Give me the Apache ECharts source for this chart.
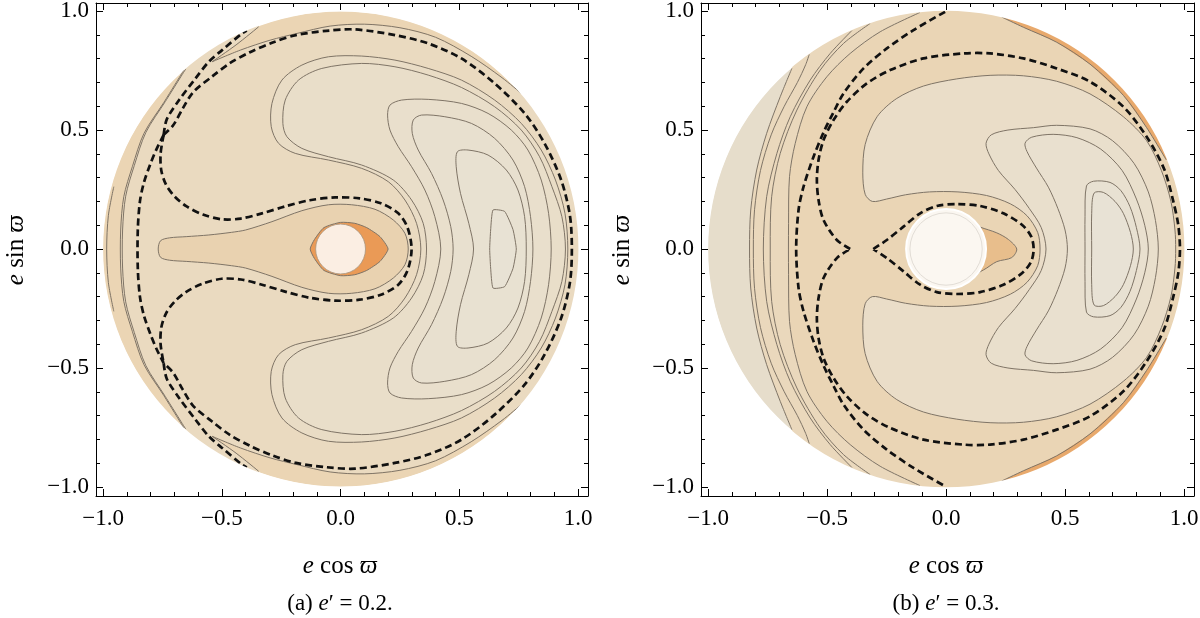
<!DOCTYPE html>
<html>
<head>
<meta charset="utf-8">
<script src="https://cdn.jsdelivr.net/npm/echarts@6/dist/echarts.min.js"></script>
<style>
html,body{margin:0;padding:0;background:#ffffff;}
#chart{width:1200px;height:618px;}
</style>
</head>
<body>
<div id="chart"></div>
<script>
// ---------------- ticks & texts ----------------
const majorTicks = [-1, -0.5, 0, 0.5, 1];
const minorTicks = [-0.9, -0.8, -0.7, -0.6, -0.4, -0.3, -0.2, -0.1, 0.1, 0.2, 0.3, 0.4, 0.6, 0.7, 0.8, 0.9];
const xTitleParts = ['e', 'cos', 'ϖ'];
const yTitleParts = ['e', 'sin', 'ϖ'];
const panelLabels = ['(a)', '(b)'];
const ePrimeValues = ['0.2', '0.3'];

// ---------------- panel (a): e' = 0.2 ----------------
const aDisk = [0, 0, 1];
const aHole = [0, 0, 0.105];
const aInterior = [[1.02,1.02],[0.76,0.66],[0.68,0.72],[0.55,0.81],[0.40,0.89],[0.25,0.93],[0.10,0.945],[-0.044,0.937],[-0.184,0.906],[-0.296,0.878],[-0.422,0.836],[-0.541,0.787],[-0.44,0.858],[-0.345,0.934],[-0.36,1.02],[-1.02,1.02],[-0.66,0.752],[-0.745,0.615],[-0.828,0.486],[-0.877,0.346],[-0.913,0.22],[-0.926,0.08],[-0.926,-0.08],[-0.913,-0.22],[-0.877,-0.346],[-0.828,-0.486],[-0.745,-0.615],[-0.66,-0.752],[-1.02,-1.02],[-0.36,-1.02],[-0.345,-0.934],[-0.44,-0.858],[-0.541,-0.787],[-0.422,-0.836],[-0.296,-0.878],[-0.184,-0.906],[-0.044,-0.937],[0.10,-0.945],[0.25,-0.93],[0.40,-0.89],[0.55,-0.81],[0.68,-0.72],[0.76,-0.66],[1.02,-1.02]];
const aC1a = [[0.338,0],[0.320,0.108],[0.271,0.206],[0.201,0.283],[0.089,0.339],[-0.051,0.374],[-0.191,0.402],[-0.261,0.444],[-0.292,0.514],[-0.289,0.612],[-0.247,0.710],[-0.163,0.773],[-0.051,0.808],[0.089,0.811],[0.229,0.794],[0.369,0.759],[0.509,0.710],[0.649,0.626],[0.761,0.528],[0.845,0.416],[0.905,0.29],[0.945,0.15],[0.957,0],[0.945,-0.15],[0.905,-0.29],[0.845,-0.416],[0.761,-0.528],[0.649,-0.626],[0.509,-0.710],[0.369,-0.759],[0.229,-0.794],[0.089,-0.811],[-0.051,-0.808],[-0.163,-0.773],[-0.247,-0.710],[-0.289,-0.612],[-0.292,-0.514],[-0.261,-0.444],[-0.191,-0.402],[-0.051,-0.374],[0.089,-0.339],[0.201,-0.283],[0.271,-0.206],[0.320,-0.108]];
const aC1b = [[0.362,0],[0.348,0.108],[0.299,0.206],[0.222,0.290],[0.089,0.353],[-0.051,0.388],[-0.163,0.423],[-0.226,0.472],[-0.243,0.528],[-0.233,0.626],[-0.177,0.710],[-0.079,0.759],[0.089,0.78],[0.229,0.766],[0.369,0.731],[0.509,0.679],[0.649,0.598],[0.761,0.50],[0.838,0.388],[0.89,0.262],[0.932,0.136],[0.947,0],[0.932,-0.136],[0.89,-0.262],[0.838,-0.388],[0.761,-0.50],[0.649,-0.598],[0.509,-0.679],[0.369,-0.731],[0.229,-0.766],[0.089,-0.78],[-0.079,-0.759],[-0.177,-0.710],[-0.233,-0.626],[-0.243,-0.528],[-0.226,-0.472],[-0.163,-0.423],[-0.051,-0.388],[0.089,-0.353],[0.222,-0.290],[0.299,-0.206],[0.348,-0.108]];
const aC2 = [[0.887,0],[0.876,0.150],[0.845,0.290],[0.789,0.416],[0.719,0.500],[0.621,0.570],[0.509,0.612],[0.369,0.629],[0.257,0.626],[0.208,0.605],[0.198,0.563],[0.208,0.500],[0.243,0.430],[0.299,0.346],[0.355,0.248],[0.397,0.136],[0.422,0],[0.397,-0.136],[0.355,-0.248],[0.299,-0.346],[0.243,-0.430],[0.208,-0.500],[0.198,-0.563],[0.208,-0.605],[0.257,-0.626],[0.369,-0.629],[0.509,-0.612],[0.621,-0.570],[0.719,-0.500],[0.789,-0.416],[0.845,-0.290],[0.876,-0.150]];
const aC3 = [[0.810,0],[0.800,0.136],[0.775,0.262],[0.726,0.374],[0.649,0.465],[0.551,0.528],[0.439,0.556],[0.341,0.563],[0.306,0.542],[0.302,0.486],[0.327,0.416],[0.383,0.318],[0.432,0.206],[0.464,0.094],[0.474,0],[0.464,-0.094],[0.432,-0.206],[0.383,-0.318],[0.327,-0.416],[0.302,-0.486],[0.306,-0.542],[0.341,-0.563],[0.439,-0.556],[0.551,-0.528],[0.649,-0.465],[0.726,-0.374],[0.775,-0.262],[0.800,-0.136]];
const aC4 = [[0.782,0],[0.775,0.136],[0.747,0.248],[0.698,0.332],[0.621,0.395],[0.537,0.416],[0.492,0.409],[0.487,0.346],[0.505,0.234],[0.540,0.108],[0.560,0],[0.540,-0.108],[0.505,-0.234],[0.487,-0.346],[0.492,-0.409],[0.537,-0.416],[0.621,-0.395],[0.698,-0.332],[0.747,-0.248],[0.775,-0.136]];
const aC5 = [[0.740,0],[0.726,0.082],[0.691,0.158],[0.642,0.164],[0.632,0.08],[0.628,0],[0.632,-0.08],[0.642,-0.164],[0.691,-0.158],[0.726,-0.082]];
const aTadpole = [[-0.768,0],[-0.758,0.035],[-0.72,0.047],[-0.65,0.052],[-0.555,0.059],[-0.46,0.07],[-0.40,0.08],[-0.289,0.115],[-0.163,0.161],[-0.051,0.186],[0.047,0.186],[0.145,0.167],[0.222,0.122],[0.271,0.066],[0.285,0],[0.271,-0.066],[0.222,-0.122],[0.145,-0.167],[0.047,-0.186],[-0.051,-0.186],[-0.163,-0.161],[-0.289,-0.115],[-0.40,-0.08],[-0.46,-0.07],[-0.555,-0.059],[-0.65,-0.052],[-0.72,-0.047],[-0.758,-0.035]];
const aOrange = [[-0.128,0],[-0.11,0.04],[-0.07,0.09],[0.0,0.112],[0.06,0.108],[0.11,0.09],[0.166,0.052],[0.2,0],[0.166,-0.052],[0.11,-0.09],[0.06,-0.108],[0.0,-0.112],[-0.07,-0.09],[-0.11,-0.04]];
const aRimArc = [[-0.955,0.262],[-0.978,0.14],[-0.985,0],[-0.978,-0.14],[-0.955,-0.262]];
const aDouble1 = [[-0.66,0.752],[-0.745,0.615],[-0.828,0.486],[-0.877,0.346],[-0.913,0.22],[-0.926,0.08],[-0.926,-0.08],[-0.913,-0.22],[-0.877,-0.346],[-0.828,-0.486],[-0.745,-0.615],[-0.66,-0.752]];
const aDouble2 = [[-0.652,0.757],[-0.738,0.62],[-0.82,0.49],[-0.869,0.35],[-0.905,0.222],[-0.918,0.08],[-0.918,-0.08],[-0.905,-0.222],[-0.869,-0.35],[-0.82,-0.49],[-0.738,-0.62],[-0.652,-0.757]];
const aCuspTopA = [[-0.345,0.934],[-0.44,0.858],[-0.541,0.787]];
const aCuspTopB = [[-0.541,0.787],[-0.422,0.836],[-0.296,0.878],[-0.184,0.906],[-0.044,0.937],[0.10,0.945],[0.25,0.93],[0.40,0.89],[0.55,0.81],[0.68,0.72],[0.76,0.655]];
const aCuspBotA = [[-0.345,-0.934],[-0.44,-0.858],[-0.541,-0.787]];
const aCuspBotB = [[-0.541,-0.787],[-0.422,-0.836],[-0.296,-0.878],[-0.184,-0.906],[-0.044,-0.937],[0.10,-0.945],[0.25,-0.93],[0.40,-0.89],[0.55,-0.81],[0.68,-0.72],[0.76,-0.655]];
const aDashLeftArc = [[-0.745,0.48],[-0.775,0.42],[-0.800,0.36],[-0.828,0.28],[-0.845,0.2],[-0.854,0.08],[-0.854,-0.08],[-0.845,-0.2],[-0.828,-0.28],[-0.800,-0.36],[-0.775,-0.42],[-0.745,-0.48]];
const aDashRimTop = [[-0.745,0.48],[-0.732,0.545],[-0.68,0.626],[-0.611,0.717],[-0.555,0.787],[-0.499,0.836],[-0.415,0.906],[-0.395,0.918]];
const aDashRimBot = [[-0.745,-0.48],[-0.732,-0.545],[-0.68,-0.626],[-0.611,-0.717],[-0.555,-0.787],[-0.499,-0.836],[-0.415,-0.906],[-0.395,-0.918]];
const aDashRing = [[-0.745,0.48],[-0.705,0.52],[-0.665,0.59],[-0.62,0.66],[-0.541,0.725],[-0.468,0.78],[-0.384,0.826],[-0.286,0.868],[-0.188,0.899],[-0.06,0.917],[0.061,0.923],[0.229,0.899],[0.369,0.864],[0.509,0.801],[0.649,0.696],[0.775,0.57],[0.859,0.444],[0.929,0.29],[0.966,0.14],[0.974,0],[0.966,-0.14],[0.929,-0.29],[0.859,-0.444],[0.775,-0.57],[0.649,-0.696],[0.509,-0.801],[0.369,-0.864],[0.229,-0.899],[0.061,-0.923],[-0.06,-0.917],[-0.188,-0.899],[-0.286,-0.868],[-0.384,-0.826],[-0.468,-0.78],[-0.541,-0.725],[-0.62,-0.66],[-0.665,-0.59],[-0.705,-0.52],[-0.745,-0.48]];
const aDashInner = [[-0.745,0.48],[-0.758,0.40],[-0.755,0.33],[-0.735,0.27],[-0.70,0.222],[-0.65,0.18],[-0.58,0.145],[-0.50,0.125],[-0.42,0.128],[-0.331,0.150],[-0.23,0.18],[-0.13,0.205],[-0.023,0.217],[0.08,0.213],[0.17,0.192],[0.243,0.150],[0.282,0.09],[0.299,0],[0.282,-0.09],[0.243,-0.15],[0.17,-0.192],[0.08,-0.213],[-0.023,-0.217],[-0.13,-0.205],[-0.23,-0.18],[-0.331,-0.15],[-0.42,-0.128],[-0.50,-0.125],[-0.58,-0.145],[-0.65,-0.18],[-0.70,-0.222],[-0.735,-0.27],[-0.755,-0.33],[-0.758,-0.40],[-0.745,-0.48]];

// ---------------- panel (b): e' = 0.3 ----------------
const bDisk = [0, 0, 1];
const bHole = [0, 0, 0.168];
const bHoleRing = [0, 0, 0.152];
const bLineA = [[-0.648,0.759],[-0.697,0.640],[-0.754,0.486],[-0.796,0.332],[-0.821,0.164],[-0.826,0],[-0.821,-0.164],[-0.796,-0.332],[-0.754,-0.486],[-0.697,-0.640],[-0.648,-0.759]];
const bLineAOuter = [[-0.66,-1.02],[1.02,-1.02],[1.02,1.02],[-0.66,1.02]];
const bLineB = [[-0.575,0.818],[-0.59,0.775],[-0.625,0.70],[-0.68,0.60],[-0.735,0.48],[-0.78,0.33],[-0.805,0.165],[-0.81,0],[-0.805,-0.165],[-0.78,-0.33],[-0.735,-0.48],[-0.68,-0.60],[-0.625,-0.70],[-0.59,-0.775],[-0.575,-0.818]];
const bLineC = [[-0.396,0.918],[-0.487,0.822],[-0.571,0.710],[-0.655,0.556],[-0.711,0.402],[-0.754,0.220],[-0.768,0],[-0.754,-0.220],[-0.711,-0.402],[-0.655,-0.556],[-0.571,-0.710],[-0.487,-0.822],[-0.396,-0.918]];
const bLineD = [[-0.319,0.948],[-0.431,0.864],[-0.529,0.752],[-0.627,0.584],[-0.697,0.402],[-0.733,0.220],[-0.739,0],[-0.733,-0.220],[-0.697,-0.402],[-0.627,-0.584],[-0.529,-0.752],[-0.431,-0.864],[-0.319,-0.948]];
const bLineE = [[-0.11,0.994],[-0.277,0.913],[-0.403,0.822],[-0.501,0.724],[-0.585,0.598],[-0.634,0.444],[-0.658,0.304],[-0.662,0.108],[-0.662,-0.108],[-0.658,-0.304],[-0.634,-0.444],[-0.585,-0.598],[-0.501,-0.724],[-0.403,-0.822],[-0.277,-0.913],[-0.11,-0.994]];
const bLineEOuter = [[-0.11,-1.02],[1.02,-1.02],[1.02,1.02],[-0.11,1.02]];
const bSliverTop = [[0.234,0.975],[0.325,0.932],[0.465,0.869],[0.605,0.777],[0.745,0.646],[0.843,0.51],[0.925,0.375]];
const bSliverTopOuter = [[1.02,0.375],[1.02,1.02],[0.234,1.02]];
const bSliverBot = [[0.234,-0.975],[0.325,-0.932],[0.465,-0.869],[0.605,-0.777],[0.745,-0.646],[0.843,-0.51],[0.925,-0.375]];
const bSliverBotOuter = [[1.02,-0.375],[1.02,-1.02],[0.234,-1.02]];
const bR1 = [[0.395,0],[0.385,0.07],[0.34,0.14],[0.27,0.19],[0.17,0.225],[0.05,0.24],[-0.07,0.24],[-0.17,0.228],[-0.25,0.21],[-0.31,0.2],[-0.34,0.23],[-0.35,0.32],[-0.34,0.44],[-0.29,0.556],[-0.207,0.633],[-0.095,0.685],[0.045,0.715],[0.185,0.73],[0.325,0.728],[0.465,0.705],[0.605,0.652],[0.745,0.556],[0.843,0.455],[0.905,0.33],[0.945,0.2],[0.962,0.08],[0.965,0],[0.962,-0.08],[0.945,-0.2],[0.905,-0.33],[0.843,-0.455],[0.745,-0.556],[0.605,-0.652],[0.465,-0.705],[0.325,-0.728],[0.185,-0.73],[0.045,-0.715],[-0.095,-0.685],[-0.207,-0.633],[-0.29,-0.556],[-0.34,-0.44],[-0.35,-0.32],[-0.34,-0.23],[-0.31,-0.2],[-0.25,-0.21],[-0.17,-0.228],[-0.07,-0.24],[0.05,-0.24],[0.17,-0.225],[0.27,-0.19],[0.34,-0.14],[0.385,-0.07]];
const bR2 = [[0.42,0],[0.40,0.09],[0.35,0.17],[0.29,0.25],[0.22,0.33],[0.18,0.40],[0.168,0.444],[0.19,0.48],[0.26,0.50],[0.367,0.51],[0.465,0.52],[0.605,0.505],[0.70,0.455],[0.79,0.36],[0.85,0.24],[0.88,0.12],[0.892,0],[0.88,-0.12],[0.85,-0.24],[0.79,-0.36],[0.70,-0.455],[0.605,-0.505],[0.465,-0.52],[0.367,-0.51],[0.26,-0.50],[0.19,-0.48],[0.168,-0.444],[0.18,-0.40],[0.22,-0.33],[0.29,-0.25],[0.35,-0.17],[0.40,-0.09]];
const bR3 = [[0.51,0],[0.50,0.08],[0.47,0.17],[0.43,0.26],[0.38,0.34],[0.34,0.41],[0.332,0.445],[0.36,0.47],[0.45,0.482],[0.55,0.468],[0.65,0.42],[0.74,0.33],[0.80,0.21],[0.835,0.10],[0.85,0],[0.835,-0.10],[0.80,-0.21],[0.74,-0.33],[0.65,-0.42],[0.55,-0.468],[0.45,-0.482],[0.36,-0.47],[0.332,-0.445],[0.34,-0.41],[0.38,-0.34],[0.43,-0.26],[0.47,-0.17],[0.50,-0.08]];
const bR4 = [[0.815,0],[0.80,0.09],[0.773,0.178],[0.735,0.245],[0.689,0.28],[0.62,0.285],[0.59,0.265],[0.584,0.136],[0.584,0],[0.584,-0.136],[0.59,-0.265],[0.62,-0.285],[0.689,-0.28],[0.735,-0.245],[0.773,-0.178],[0.80,-0.09]];
const bR5 = [[0.787,0],[0.775,0.07],[0.745,0.15],[0.71,0.2],[0.661,0.238],[0.622,0.235],[0.612,0.15],[0.612,0],[0.612,-0.15],[0.622,-0.235],[0.661,-0.238],[0.71,-0.2],[0.745,-0.15],[0.775,-0.07]];
const bOrange = [[0.10,0.11],[0.143,0.092],[0.213,0.068],[0.262,0.04],[0.297,0],[0.276,-0.036],[0.213,-0.053],[0.157,-0.088],[0.10,-0.11],[0.05,0]];
const bDashInner = [[-0.306,0],[-0.249,0.038],[-0.179,0.094],[-0.109,0.150],[-0.039,0.181],[0.045,0.189],[0.143,0.181],[0.241,0.150],[0.320,0.101],[0.358,0.052],[0.368,0],[0.358,-0.052],[0.320,-0.101],[0.241,-0.150],[0.143,-0.181],[0.045,-0.189],[-0.039,-0.181],[-0.109,-0.150],[-0.179,-0.094],[-0.249,-0.038],[-0.306,0]];
const bDashRing = [[-0.403,0],[-0.459,0.038],[-0.515,0.122],[-0.536,0.206],[-0.543,0.290],[-0.536,0.374],[-0.515,0.458],[-0.473,0.542],[-0.417,0.619],[-0.333,0.696],[-0.235,0.752],[-0.095,0.801],[0.073,0.822],[0.185,0.822],[0.325,0.801],[0.465,0.759],[0.605,0.703],[0.745,0.598],[0.843,0.472],[0.917,0.335],[0.955,0.2],[0.976,0.1],[0.983,0],[0.976,-0.1],[0.955,-0.2],[0.917,-0.335],[0.843,-0.472],[0.745,-0.598],[0.605,-0.703],[0.465,-0.759],[0.325,-0.801],[0.185,-0.822],[0.073,-0.822],[-0.095,-0.801],[-0.235,-0.752],[-0.333,-0.696],[-0.417,-0.619],[-0.473,-0.542],[-0.515,-0.458],[-0.536,-0.374],[-0.543,-0.290],[-0.536,-0.206],[-0.515,-0.122],[-0.459,-0.038],[-0.403,0]];
const bDashOuter = [[-0.004,0.997],[-0.137,0.920],[-0.249,0.843],[-0.347,0.759],[-0.431,0.654],[-0.473,0.575],[-0.515,0.49],[-0.557,0.388],[-0.599,0.262],[-0.620,0.164],[-0.630,0],[-0.620,-0.164],[-0.599,-0.262],[-0.557,-0.388],[-0.515,-0.49],[-0.473,-0.575],[-0.431,-0.654],[-0.347,-0.759],[-0.249,-0.843],[-0.137,-0.920],[-0.004,-0.997]];

// ---------------- styling ----------------
const FONT = "'Liberation Serif','DejaVu Serif','Times New Roman',serif";
const THIN = '#7f7466';
const DASH = '#111111';
const X_MIN = -1.03, X_MAX = 1.042, Y_MIN = -1.038, Y_MAX = 1.034;

function fmt(v) {
  const s = Math.abs(v).toFixed(1);
  return (v < 0 ? '\u2212' : '') + s;
}

function fillSeries(g, pts, color, smooth, stroke) {
  return {
    type: 'custom', xAxisIndex: g * 4, yAxisIndex: g * 4, clip: true, silent: true,
    data: pts,
    renderItem: function (params, api) {
      if (params.dataIndex !== 0) return null;
      const p = pts.map(function (d) { return api.coord(d); });
      const style = { fill: color };
      if (stroke) { style.stroke = stroke; style.lineWidth = 1; } else { style.stroke = 'none'; }
      return { type: 'polygon', shape: { points: p, smooth: smooth || 0 }, style: style };
    }
  };
}
function lineSeries(g, pts, color, width, dash, smooth) {
  return {
    type: 'custom', xAxisIndex: g * 4, yAxisIndex: g * 4, clip: true, silent: true,
    data: pts,
    renderItem: function (params, api) {
      if (params.dataIndex !== 0) return null;
      const p = pts.map(function (d) { return api.coord(d); });
      const style = { fill: 'none', stroke: color, lineWidth: width };
      if (dash) style.lineDash = dash;
      return { type: 'polyline', shape: { points: p, smooth: smooth || 0 }, style: style };
    }
  };
}
function circleSeries(g, c, fill, stroke, width) {
  return {
    type: 'custom', xAxisIndex: g * 4, yAxisIndex: g * 4, clip: true, silent: true,
    data: [c],
    renderItem: function (params, api) {
      const p = api.coord([c[0], c[1]]);
      const r = api.size([c[2], c[2]])[0];
      const style = { fill: fill };
      if (stroke) { style.stroke = stroke; style.lineWidth = width; } else { style.stroke = 'none'; }
      return { type: 'circle', shape: { cx: p[0], cy: p[1], r: r }, style: style };
    }
  };
}
function maskSeries(g, c) {
  return {
    type: 'custom', xAxisIndex: g * 4, yAxisIndex: g * 4, clip: true, silent: true,
    data: [c],
    renderItem: function (params, api) {
      const cs = params.coordSys;
      const p = api.coord([c[0], c[1]]);
      const r = api.size([c[2], c[2]])[0] + 0.4;
      const x0 = cs.x - 2, y0 = cs.y - 2, x1 = cs.x + cs.width + 2, y1 = cs.y + cs.height + 2;
      const d = 'M' + x0 + ' ' + y0 + ' L' + x1 + ' ' + y0 + ' L' + x1 + ' ' + y1 + ' L' + x0 + ' ' + y1 + ' Z ' +
        'M' + (p[0] + r) + ' ' + p[1] + ' A' + r + ' ' + r + ' 0 1 0 ' + (p[0] - r) + ' ' + p[1] +
        ' A' + r + ' ' + r + ' 0 1 0 ' + (p[0] + r) + ' ' + p[1] + ' Z';
      return { type: 'path', shape: { pathData: d }, style: { fill: '#ffffff', stroke: 'none' } };
    }
  };
}

function axis(dim, g, position, ticks, len, labels, line) {
  const isX = dim === 'x';
  return {
    type: 'value', gridIndex: g, position: position, z: 10,
    min: isX ? X_MIN : Y_MIN, max: isX ? X_MAX : Y_MAX,
    axisLine: { show: line, onZero: false, lineStyle: { color: '#000', width: 1 } },
    axisTick: { show: true, inside: true, length: len, customValues: ticks, lineStyle: { color: '#000', width: 1 } },
    axisLabel: { show: labels, customValues: ticks, formatter: fmt, fontFamily: FONT, fontSize: 23, color: '#000',
                 margin: isX ? 11 : 7 },
    splitLine: { show: false }, minorTick: { show: false }, minorSplitLine: { show: false },
    axisPointer: { show: false }
  };
}

const xAxes = [], yAxes = [];
[0, 1].forEach(function (g) {
  xAxes.push(axis('x', g, 'bottom', majorTicks, 7, true, true));
  xAxes.push(axis('x', g, 'bottom', minorTicks, 4, false, false));
  xAxes.push(axis('x', g, 'top', majorTicks, 7, false, true));
  xAxes.push(axis('x', g, 'top', minorTicks, 4, false, false));
  yAxes.push(axis('y', g, 'left', majorTicks, 7, true, true));
  yAxes.push(axis('y', g, 'left', minorTicks, 4, false, false));
  yAxes.push(axis('y', g, 'right', majorTicks, 7, false, true));
  yAxes.push(axis('y', g, 'right', minorTicks, 4, false, false));
});

const DASH_STYLE = [7, 4];
const DASH_W = 2.7;
const series = [];
// panel a
series.push(circleSeries(0, aDisk, '#ebd5b4'));
series.push(fillSeries(0, aInterior, '#eadac0', 0));
series.push(fillSeries(0, aC1a, '#e9dcc5', 0.3, THIN));
series.push(fillSeries(0, aC1b, '#e9dec9', 0.3, THIN));
series.push(fillSeries(0, aC2, '#e9dfcc', 0.3, THIN));
series.push(fillSeries(0, aC3, '#e8e0cf', 0.3, THIN));
series.push(fillSeries(0, aC4, '#e8e1d1', 0.3, THIN));
series.push(fillSeries(0, aC5, '#e8e2d4', 0.15, THIN));
series.push(fillSeries(0, aTadpole, '#e9d2b0', 0.3, THIN));
series.push(fillSeries(0, aOrange, '#ea9a56', 0.2, THIN));
series.push(circleSeries(0, aHole, '#fbeee3', '#a8967f', 0.8));
[aRimArc, aDouble1, aDouble2, aCuspTopA, aCuspTopB, aCuspBotA, aCuspBotB].forEach(function (l) {
  series.push(lineSeries(0, l, THIN, 1, null, 0.3));
});
[aDashLeftArc, aDashRimTop, aDashRimBot, aDashRing, aDashInner].forEach(function (l) {
  series.push(lineSeries(0, l, DASH, DASH_W, DASH_STYLE, 0.3));
});
series.push(maskSeries(0, aDisk));
// panel b
series.push(circleSeries(1, bDisk, '#e6ddcb'));
series.push(fillSeries(1, bLineA.concat(bLineAOuter), '#ead8bc', 0));
series.push(fillSeries(1, bLineE.concat(bLineEOuter), '#ead5b5', 0));
series.push(fillSeries(1, bSliverTop.concat(bSliverTopOuter), '#e8a96c', 0));
series.push(fillSeries(1, bSliverBot.concat(bSliverBotOuter), '#e8a96c', 0));
series.push(fillSeries(1, bR1, '#eaddc8', 0.3, THIN));
series.push(fillSeries(1, bR2, '#e9dfcc', 0.3, THIN));
series.push(fillSeries(1, bR3, '#e9e0cf', 0.3, THIN));
series.push(fillSeries(1, bR4, '#e8e1d2', 0.3, THIN));
series.push(fillSeries(1, bR5, '#e8e2d5', 0.3, THIN));
series.push(fillSeries(1, bOrange, '#e8be8c', 0.3, THIN));
series.push(circleSeries(1, bHole, '#fbf7f1', '#ffffff', 2));
series.push(circleSeries(1, bHoleRing, 'none', '#e2ddd6', 1));
[bLineA, bLineB, bLineC, bLineD, bLineE, bSliverTop, bSliverBot].forEach(function (l) {
  series.push(lineSeries(1, l, THIN, 1, null, 0.3));
});
[bDashInner, bDashRing, bDashOuter].forEach(function (l) {
  series.push(lineSeries(1, l, DASH, DASH_W, DASH_STYLE, 0.3));
});
series.push(maskSeries(1, bDisk));

// texts
const rich = { i: { fontStyle: 'italic', fontFamily: FONT, fontSize: 25, fill: '#000' } };
const richCap = { i: { fontStyle: 'italic', fontFamily: FONT, fontSize: 23, fill: '#000' } };
const centersX = [340, 946];
const yTitleX = [16, 622];
const graphics = [];
[0, 1].forEach(function (g) {
  graphics.push({ type: 'text', x: centersX[g], y: 566, silent: true,
    style: { text: '{i|' + xTitleParts[0] + '} ' + xTitleParts[1] + ' {i|' + xTitleParts[2] + '}',
             fontFamily: FONT, fontSize: 25, fill: '#000', align: 'center', verticalAlign: 'middle', rich: rich } });
  graphics.push({ type: 'text', x: yTitleX[g], y: 250, rotation: Math.PI / 2, silent: true,
    style: { text: '{i|' + yTitleParts[0] + '} ' + yTitleParts[1] + ' {i|' + yTitleParts[2] + '}',
             fontFamily: FONT, fontSize: 25, fill: '#000', align: 'center', verticalAlign: 'middle', rich: rich } });
  graphics.push({ type: 'text', x: centersX[g], y: 604, silent: true,
    style: { text: panelLabels[g] + ' {i|e}\u2032 = ' + ePrimeValues[g] + '.',
             fontFamily: FONT, fontSize: 23, fill: '#000', align: 'center', verticalAlign: 'middle', rich: richCap } });
});

const chart = echarts.init(document.getElementById('chart'), null, { renderer: 'canvas' });
chart.setOption({
  backgroundColor: '#ffffff',
  animation: false,
  grid: [
    { left: 96, top: 3, width: 492, height: 493, containLabel: false, outerBoundsMode: 'none' },
    { left: 701, top: 3, width: 493, height: 493, containLabel: false, outerBoundsMode: 'none' }
  ],
  xAxis: xAxes,
  yAxis: yAxes,
  series: series,
  graphic: graphics
});
</script>
</body>
</html>
